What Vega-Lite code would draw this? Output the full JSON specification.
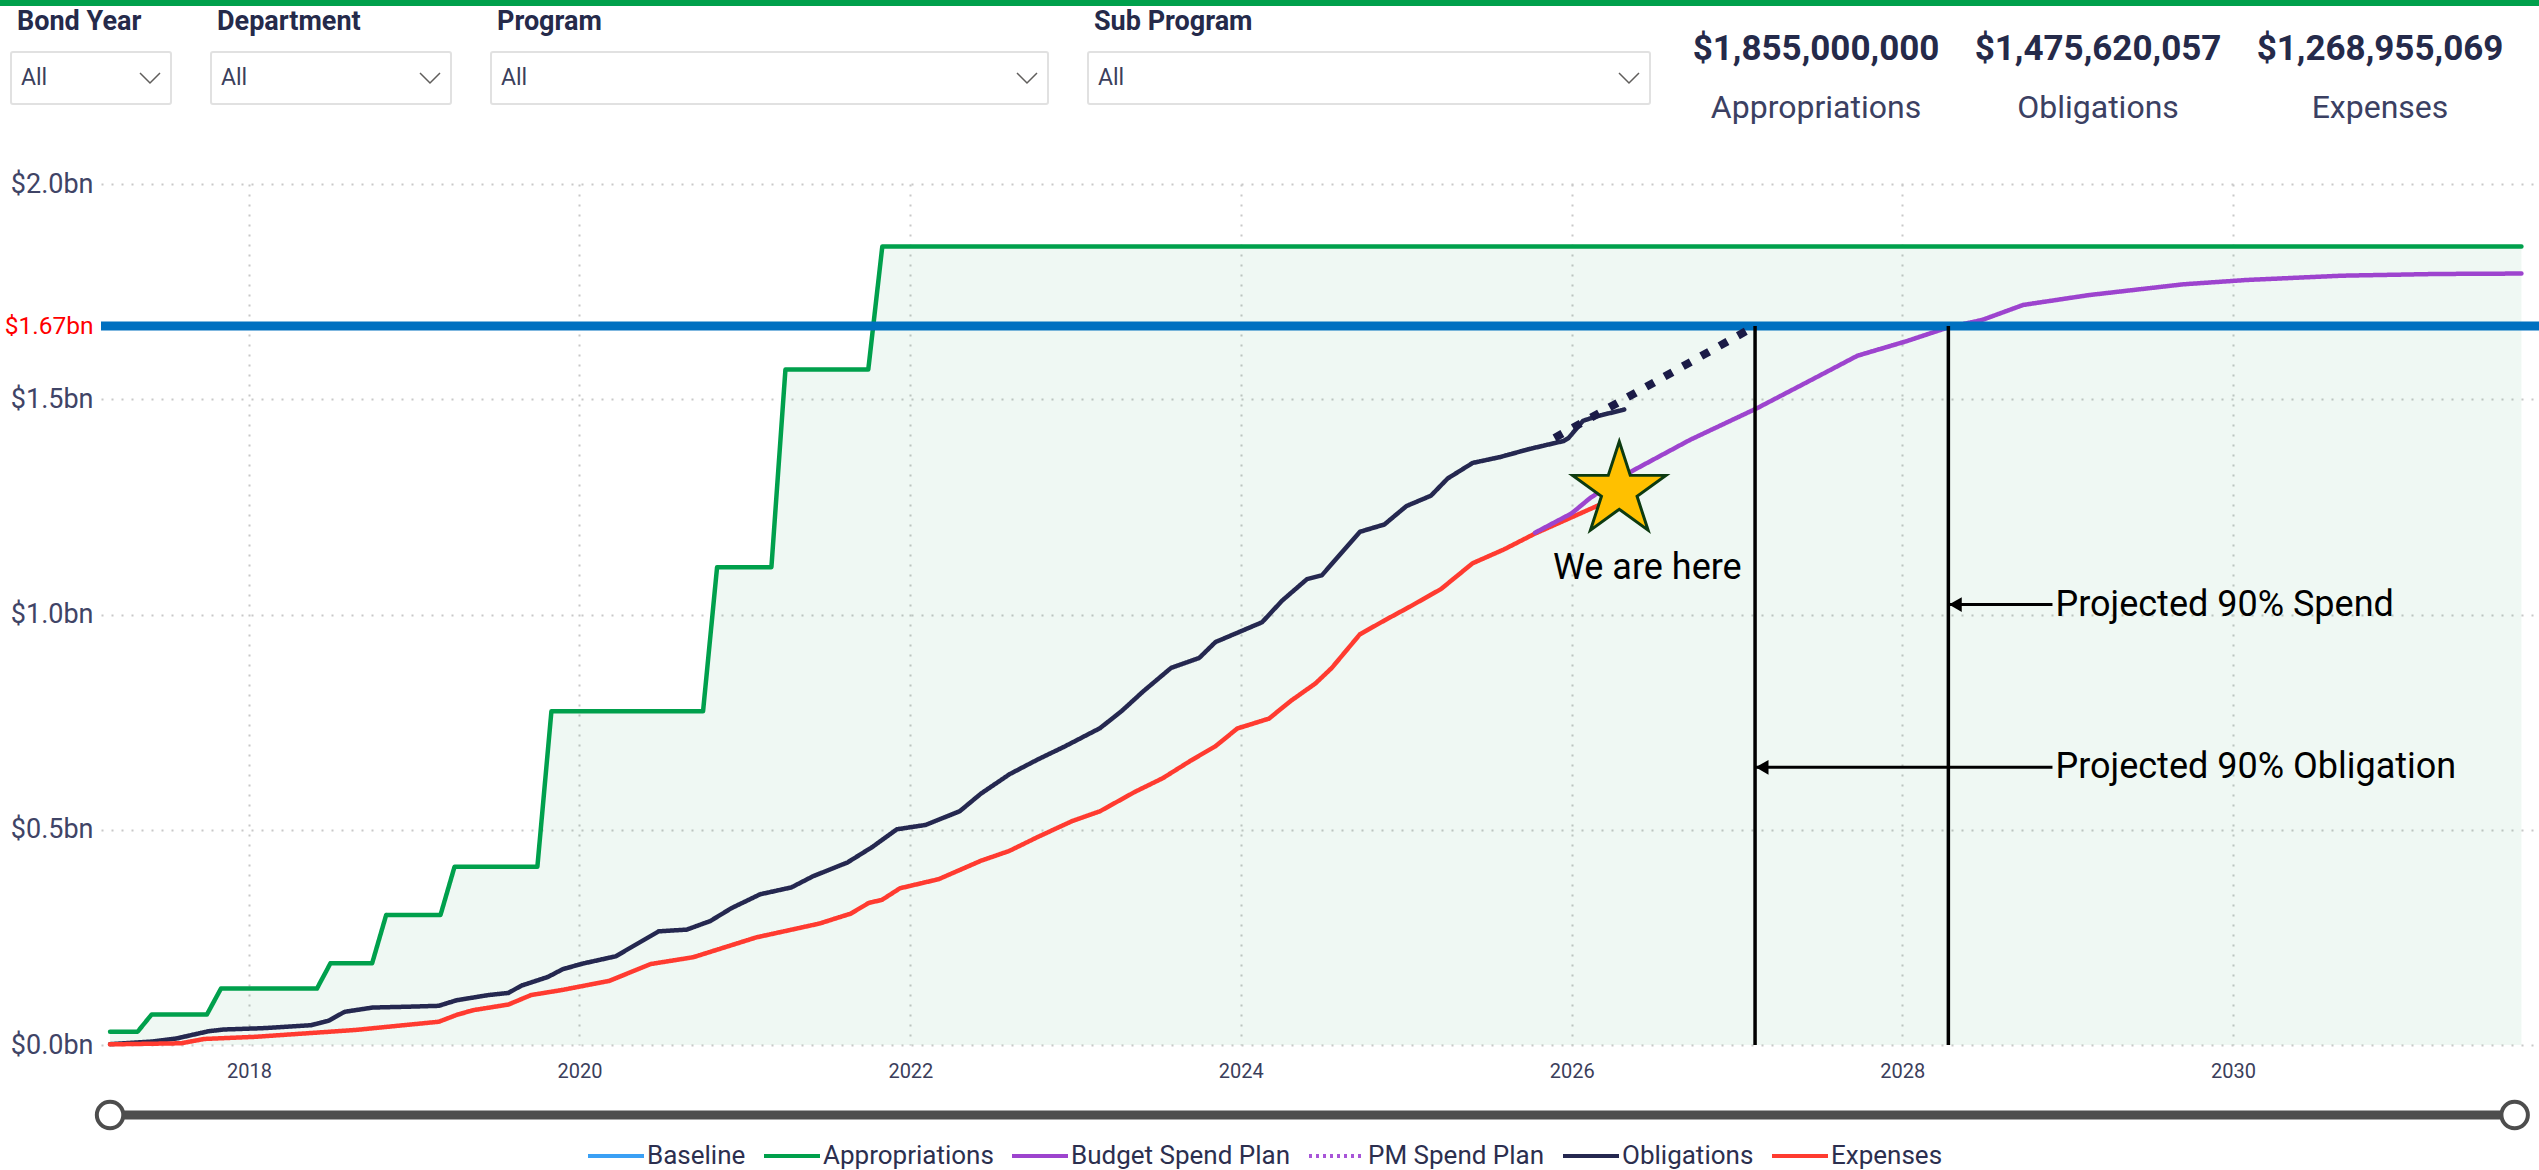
{
  "$schema": "https://vega.github.io/schema/vega-lite/v6.json",
  "background": "#ffffff",
  "padding": 0,
  "config": {
    "view": {"stroke": null},
    "font": "Roboto",
    "title": {"font": "Roboto", "anchor": "start"}
  },
  "datasets": {
    "slicers": [
      {"slicer": "Bond Year", "selection": "All"},
      {"slicer": "Department", "selection": "All"},
      {"slicer": "Program", "selection": "All"},
      {"slicer": "Sub Program", "selection": "All"}
    ],
    "kpis": [
      {"measure": "Appropriations", "amount": 1855000000},
      {"measure": "Obligations", "amount": 1475620057},
      {"measure": "Expenses", "amount": 1268955069}
    ],
    "baseline": [{"series": "Baseline", "value": 1.67}],
    "projections": [
      {"label": "Projected 90% Obligation", "date": "2027-02-10", "target": 1.67, "arrow_level": 0.645, "label_date": "2028-11-28"},
      {"label": "Projected 90% Spend", "date": "2028-04-12", "target": 1.67, "arrow_level": 1.023, "label_date": "2028-11-28"}
    ],
    "obligation_projection": [
      {"date": "2025-11-24", "value": 1.41},
      {"date": "2027-02-10", "value": 1.67}
    ],
    "status": [
      {"note": "We are here", "date": "2026-04-16", "value": 1.288, "label_date": "2026-06-17", "label_value": 1.108}
    ],
    "date_range": [
      {"control": "Date range", "handle": "start", "date": "2017-02-28"},
      {"control": "Date range", "handle": "end", "date": "2031-09-15"}
    ],
    "spending": [
      {"series": "Appropriations", "date": "2017-02-28", "value": 0.031},
      {"series": "Appropriations", "date": "2017-04-30", "value": 0.031},
      {"series": "Appropriations", "date": "2017-05-31", "value": 0.071},
      {"series": "Appropriations", "date": "2017-09-30", "value": 0.071},
      {"series": "Appropriations", "date": "2017-10-31", "value": 0.131},
      {"series": "Appropriations", "date": "2018-05-31", "value": 0.131},
      {"series": "Appropriations", "date": "2018-06-30", "value": 0.19},
      {"series": "Appropriations", "date": "2018-09-30", "value": 0.19},
      {"series": "Appropriations", "date": "2018-10-31", "value": 0.302},
      {"series": "Appropriations", "date": "2019-02-28", "value": 0.302},
      {"series": "Appropriations", "date": "2019-03-31", "value": 0.414},
      {"series": "Appropriations", "date": "2019-09-30", "value": 0.414},
      {"series": "Appropriations", "date": "2019-10-31", "value": 0.775},
      {"series": "Appropriations", "date": "2020-09-30", "value": 0.775},
      {"series": "Appropriations", "date": "2020-10-31", "value": 1.11},
      {"series": "Appropriations", "date": "2021-02-28", "value": 1.11},
      {"series": "Appropriations", "date": "2021-03-31", "value": 1.569},
      {"series": "Appropriations", "date": "2021-09-30", "value": 1.569},
      {"series": "Appropriations", "date": "2021-10-31", "value": 1.855},
      {"series": "Appropriations", "date": "2031-09-30", "value": 1.855},

      {"series": "Obligations", "date": "2017-02-28", "value": 0.002},
      {"series": "Obligations", "date": "2017-05-31", "value": 0.008},
      {"series": "Obligations", "date": "2017-07-24", "value": 0.015},
      {"series": "Obligations", "date": "2017-10-04", "value": 0.032},
      {"series": "Obligations", "date": "2017-11-06", "value": 0.036},
      {"series": "Obligations", "date": "2018-01-30", "value": 0.039},
      {"series": "Obligations", "date": "2018-03-04", "value": 0.041},
      {"series": "Obligations", "date": "2018-05-18", "value": 0.046},
      {"series": "Obligations", "date": "2018-06-25", "value": 0.056},
      {"series": "Obligations", "date": "2018-07-31", "value": 0.077},
      {"series": "Obligations", "date": "2018-10-01", "value": 0.087},
      {"series": "Obligations", "date": "2018-12-20", "value": 0.089},
      {"series": "Obligations", "date": "2019-02-24", "value": 0.091},
      {"series": "Obligations", "date": "2019-04-05", "value": 0.104},
      {"series": "Obligations", "date": "2019-06-14", "value": 0.116},
      {"series": "Obligations", "date": "2019-07-28", "value": 0.121},
      {"series": "Obligations", "date": "2019-08-26", "value": 0.138},
      {"series": "Obligations", "date": "2019-10-23", "value": 0.158},
      {"series": "Obligations", "date": "2019-11-25", "value": 0.176},
      {"series": "Obligations", "date": "2020-01-08", "value": 0.189},
      {"series": "Obligations", "date": "2020-03-21", "value": 0.206},
      {"series": "Obligations", "date": "2020-06-24", "value": 0.264},
      {"series": "Obligations", "date": "2020-08-25", "value": 0.268},
      {"series": "Obligations", "date": "2020-10-16", "value": 0.288},
      {"series": "Obligations", "date": "2020-12-02", "value": 0.318},
      {"series": "Obligations", "date": "2021-02-03", "value": 0.35},
      {"series": "Obligations", "date": "2021-04-13", "value": 0.366},
      {"series": "Obligations", "date": "2021-05-31", "value": 0.392},
      {"series": "Obligations", "date": "2021-08-15", "value": 0.424},
      {"series": "Obligations", "date": "2021-10-09", "value": 0.46},
      {"series": "Obligations", "date": "2021-12-02", "value": 0.501},
      {"series": "Obligations", "date": "2022-02-03", "value": 0.511},
      {"series": "Obligations", "date": "2022-04-20", "value": 0.543},
      {"series": "Obligations", "date": "2022-06-06", "value": 0.584},
      {"series": "Obligations", "date": "2022-08-08", "value": 0.629},
      {"series": "Obligations", "date": "2022-10-09", "value": 0.663},
      {"series": "Obligations", "date": "2022-12-09", "value": 0.694},
      {"series": "Obligations", "date": "2023-02-24", "value": 0.736},
      {"series": "Obligations", "date": "2023-04-13", "value": 0.776},
      {"series": "Obligations", "date": "2023-05-31", "value": 0.822},
      {"series": "Obligations", "date": "2023-07-31", "value": 0.876},
      {"series": "Obligations", "date": "2023-10-01", "value": 0.899},
      {"series": "Obligations", "date": "2023-11-06", "value": 0.936},
      {"series": "Obligations", "date": "2024-02-17", "value": 0.982},
      {"series": "Obligations", "date": "2024-04-01", "value": 1.032},
      {"series": "Obligations", "date": "2024-05-26", "value": 1.082},
      {"series": "Obligations", "date": "2024-06-28", "value": 1.091},
      {"series": "Obligations", "date": "2024-09-20", "value": 1.192},
      {"series": "Obligations", "date": "2024-11-13", "value": 1.209},
      {"series": "Obligations", "date": "2025-01-01", "value": 1.252},
      {"series": "Obligations", "date": "2025-02-24", "value": 1.276},
      {"series": "Obligations", "date": "2025-04-02", "value": 1.316},
      {"series": "Obligations", "date": "2025-05-27", "value": 1.352},
      {"series": "Obligations", "date": "2025-07-28", "value": 1.366},
      {"series": "Obligations", "date": "2025-09-28", "value": 1.384},
      {"series": "Obligations", "date": "2025-12-14", "value": 1.403},
      {"series": "Obligations", "date": "2025-12-25", "value": 1.41},
      {"series": "Obligations", "date": "2026-01-26", "value": 1.45},
      {"series": "Obligations", "date": "2026-02-24", "value": 1.46},
      {"series": "Obligations", "date": "2026-04-27", "value": 1.476},

      {"series": "Expenses", "date": "2017-02-28", "value": 0.0015},
      {"series": "Expenses", "date": "2017-08-04", "value": 0.004},
      {"series": "Expenses", "date": "2017-09-24", "value": 0.014},
      {"series": "Expenses", "date": "2018-01-15", "value": 0.019},
      {"series": "Expenses", "date": "2018-08-25", "value": 0.035},
      {"series": "Expenses", "date": "2019-02-24", "value": 0.054},
      {"series": "Expenses", "date": "2019-04-05", "value": 0.07},
      {"series": "Expenses", "date": "2019-05-12", "value": 0.081},
      {"series": "Expenses", "date": "2019-07-28", "value": 0.094},
      {"series": "Expenses", "date": "2019-09-16", "value": 0.116},
      {"series": "Expenses", "date": "2019-11-25", "value": 0.128},
      {"series": "Expenses", "date": "2020-03-07", "value": 0.149},
      {"series": "Expenses", "date": "2020-06-06", "value": 0.188},
      {"series": "Expenses", "date": "2020-09-09", "value": 0.204},
      {"series": "Expenses", "date": "2021-01-26", "value": 0.25},
      {"series": "Expenses", "date": "2021-06-14", "value": 0.282},
      {"series": "Expenses", "date": "2021-08-22", "value": 0.305},
      {"series": "Expenses", "date": "2021-10-01", "value": 0.33},
      {"series": "Expenses", "date": "2021-10-30", "value": 0.337},
      {"series": "Expenses", "date": "2021-12-09", "value": 0.364},
      {"series": "Expenses", "date": "2022-03-04", "value": 0.385},
      {"series": "Expenses", "date": "2022-06-06", "value": 0.428},
      {"series": "Expenses", "date": "2022-08-08", "value": 0.451},
      {"series": "Expenses", "date": "2022-10-09", "value": 0.483},
      {"series": "Expenses", "date": "2022-12-24", "value": 0.52},
      {"series": "Expenses", "date": "2023-02-24", "value": 0.543},
      {"series": "Expenses", "date": "2023-05-12", "value": 0.588},
      {"series": "Expenses", "date": "2023-07-13", "value": 0.62},
      {"series": "Expenses", "date": "2023-09-13", "value": 0.661},
      {"series": "Expenses", "date": "2023-11-06", "value": 0.694},
      {"series": "Expenses", "date": "2023-12-24", "value": 0.735},
      {"series": "Expenses", "date": "2024-03-03", "value": 0.758},
      {"series": "Expenses", "date": "2024-04-20", "value": 0.799},
      {"series": "Expenses", "date": "2024-06-14", "value": 0.84},
      {"series": "Expenses", "date": "2024-07-20", "value": 0.876},
      {"series": "Expenses", "date": "2024-09-20", "value": 0.954},
      {"series": "Expenses", "date": "2024-11-13", "value": 0.986},
      {"series": "Expenses", "date": "2025-01-08", "value": 1.018},
      {"series": "Expenses", "date": "2025-03-18", "value": 1.059},
      {"series": "Expenses", "date": "2025-05-27", "value": 1.119},
      {"series": "Expenses", "date": "2025-08-04", "value": 1.151},
      {"series": "Expenses", "date": "2025-10-12", "value": 1.188},
      {"series": "Expenses", "date": "2025-12-28", "value": 1.224},
      {"series": "Expenses", "date": "2026-03-04", "value": 1.255},
      {"series": "Expenses", "date": "2026-04-09", "value": 1.269},

      {"series": "Budget Spend Plan", "date": "2025-10-12", "value": 1.19},
      {"series": "Budget Spend Plan", "date": "2026-01-01", "value": 1.235},
      {"series": "Budget Spend Plan", "date": "2026-02-10", "value": 1.27},
      {"series": "Budget Spend Plan", "date": "2026-05-05", "value": 1.328},
      {"series": "Budget Spend Plan", "date": "2026-09-20", "value": 1.406},
      {"series": "Budget Spend Plan", "date": "2027-02-14", "value": 1.479},
      {"series": "Budget Spend Plan", "date": "2027-05-31", "value": 1.537},
      {"series": "Budget Spend Plan", "date": "2027-09-24", "value": 1.601},
      {"series": "Budget Spend Plan", "date": "2028-01-08", "value": 1.634},
      {"series": "Budget Spend Plan", "date": "2028-04-12", "value": 1.667},
      {"series": "Budget Spend Plan", "date": "2028-06-25", "value": 1.684},
      {"series": "Budget Spend Plan", "date": "2028-09-24", "value": 1.719},
      {"series": "Budget Spend Plan", "date": "2029-02-17", "value": 1.742},
      {"series": "Budget Spend Plan", "date": "2029-09-13", "value": 1.767},
      {"series": "Budget Spend Plan", "date": "2030-01-30", "value": 1.777},
      {"series": "Budget Spend Plan", "date": "2030-08-29", "value": 1.787},
      {"series": "Budget Spend Plan", "date": "2031-03-26", "value": 1.791},
      {"series": "Budget Spend Plan", "date": "2031-09-30", "value": 1.792}
    ]
  },
  "spacing": 1,
  "vconcat": [
    {
      "width": 2539,
      "height": 6,
      "data": {"values": [{"element": "report banner"}]},
      "mark": {"type": "rect", "color": "#00A04C"}
    },
    {
      "spacing": 46,
      "vconcat": [
        {
          "spacing": 9,
          "hconcat": [
            {"width": 1, "height": 1, "data": {"values": []}, "mark": "rect"},
            {
              "spacing": 24,
              "hconcat": [
                {
                  "bounds": "flush",
                  "spacing": 40,
                  "hconcat": [
                    {
                      "width": 160, "height": 52,
                      "view": {"stroke": "#E1E1E1", "strokeWidth": 2, "cornerRadius": 2},
                      "title": {"text": "Bond Year", "anchor": "start", "dx": 6, "offset": 16, "fontSize": 27, "fontWeight": "bold", "color": "#252A4A"},
                      "data": {"name": "slicers"},
                      "transform": [{"filter": {"field": "slicer", "equal": "Bond Year"}}],
                      "layer": [
                        {"mark": {"type": "text", "align": "left", "baseline": "middle", "dx": 10, "fontSize": 23, "color": "#3B3F5C"},
                         "encoding": {"x": {"field": "selection", "type": "nominal", "axis": null, "bandPosition": 0, "scale": {"type": "band", "paddingInner": 0, "paddingOuter": 0}}, "text": {"field": "selection"}}},
                        {"mark": {"type": "point", "shape": "M-1,-0.5L0,0.5L1,-0.5", "filled": false, "size": 400, "stroke": "#605E5C", "strokeWidth": 1.5, "xOffset": -21, "opacity": 1},
                         "encoding": {"x": {"field": "selection", "type": "nominal", "axis": null, "bandPosition": 1, "scale": {"type": "band", "paddingInner": 0, "paddingOuter": 0}}}}
                      ]
                    },
                    {
                      "width": 240, "height": 52,
                      "view": {"stroke": "#E1E1E1", "strokeWidth": 2, "cornerRadius": 2},
                      "title": {"text": "Department", "anchor": "start", "dx": 6, "offset": 16, "fontSize": 27, "fontWeight": "bold", "color": "#252A4A"},
                      "data": {"name": "slicers"},
                      "transform": [{"filter": {"field": "slicer", "equal": "Department"}}],
                      "layer": [
                        {"mark": {"type": "text", "align": "left", "baseline": "middle", "dx": 10, "fontSize": 23, "color": "#3B3F5C"},
                         "encoding": {"x": {"field": "selection", "type": "nominal", "axis": null, "bandPosition": 0, "scale": {"type": "band", "paddingInner": 0, "paddingOuter": 0}}, "text": {"field": "selection"}}},
                        {"mark": {"type": "point", "shape": "M-1,-0.5L0,0.5L1,-0.5", "filled": false, "size": 400, "stroke": "#605E5C", "strokeWidth": 1.5, "xOffset": -21, "opacity": 1},
                         "encoding": {"x": {"field": "selection", "type": "nominal", "axis": null, "bandPosition": 1, "scale": {"type": "band", "paddingInner": 0, "paddingOuter": 0}}}}
                      ]
                    },
                    {
                      "width": 557, "height": 52,
                      "view": {"stroke": "#E1E1E1", "strokeWidth": 2, "cornerRadius": 2},
                      "title": {"text": "Program", "anchor": "start", "dx": 6, "offset": 16, "fontSize": 27, "fontWeight": "bold", "color": "#252A4A"},
                      "data": {"name": "slicers"},
                      "transform": [{"filter": {"field": "slicer", "equal": "Program"}}],
                      "layer": [
                        {"mark": {"type": "text", "align": "left", "baseline": "middle", "dx": 10, "fontSize": 23, "color": "#3B3F5C"},
                         "encoding": {"x": {"field": "selection", "type": "nominal", "axis": null, "bandPosition": 0, "scale": {"type": "band", "paddingInner": 0, "paddingOuter": 0}}, "text": {"field": "selection"}}},
                        {"mark": {"type": "point", "shape": "M-1,-0.5L0,0.5L1,-0.5", "filled": false, "size": 400, "stroke": "#605E5C", "strokeWidth": 1.5, "xOffset": -21, "opacity": 1},
                         "encoding": {"x": {"field": "selection", "type": "nominal", "axis": null, "bandPosition": 1, "scale": {"type": "band", "paddingInner": 0, "paddingOuter": 0}}}}
                      ]
                    },
                    {
                      "width": 562, "height": 52,
                      "view": {"stroke": "#E1E1E1", "strokeWidth": 2, "cornerRadius": 2},
                      "title": {"text": "Sub Program", "anchor": "start", "dx": 6, "offset": 16, "fontSize": 27, "fontWeight": "bold", "color": "#252A4A"},
                      "data": {"name": "slicers"},
                      "transform": [{"filter": {"field": "slicer", "equal": "Sub Program"}}],
                      "layer": [
                        {"mark": {"type": "text", "align": "left", "baseline": "middle", "dx": 10, "fontSize": 23, "color": "#3B3F5C"},
                         "encoding": {"x": {"field": "selection", "type": "nominal", "axis": null, "bandPosition": 0, "scale": {"type": "band", "paddingInner": 0, "paddingOuter": 0}}, "text": {"field": "selection"}}},
                        {"mark": {"type": "point", "shape": "M-1,-0.5L0,0.5L1,-0.5", "filled": false, "size": 400, "stroke": "#605E5C", "strokeWidth": 1.5, "xOffset": -21, "opacity": 1},
                         "encoding": {"x": {"field": "selection", "type": "nominal", "axis": null, "bandPosition": 1, "scale": {"type": "band", "paddingInner": 0, "paddingOuter": 0}}}}
                      ]
                    }
                  ]
                },
                {
                  "width": 846, "height": 52,
                  "data": {"name": "kpis"},
                  "encoding": {"x": {"field": "measure", "type": "nominal", "sort": null, "axis": null, "scale": {"paddingInner": 0, "paddingOuter": 0}}},
                  "layer": [
                    {"mark": {"type": "text", "baseline": "middle", "dy": -29, "fontSize": 35, "fontWeight": "bold", "color": "#252A4A"},
                     "encoding": {"text": {"field": "amount", "type": "quantitative", "format": "$,.0f"}}},
                    {"mark": {"type": "text", "baseline": "middle", "dy": 30, "fontSize": 32, "color": "#3B4062"},
                     "encoding": {"text": {"field": "measure", "type": "nominal"}}}
                  ]
                }
              ]
            }
          ]
        },
        {
          "spacing": 3,
          "hconcat": [
            {"width": 1, "height": 1, "data": {"values": []}, "mark": "rect"},
            {
              "bounds": "flush",
              "spacing": 56,
              "vconcat": [
                {
                  "width": 2439,
                  "height": 861,
                  "layer": [
                    {
                      "data": {"name": "spending"},
                      "transform": [{"filter": {"field": "series", "equal": "Appropriations"}}],
                      "mark": {"type": "area", "color": "#0A9A47", "opacity": 0.065},
                      "encoding": {
                        "x": {"field": "date", "type": "temporal",
                              "scale": {"type": "utc", "domain": [{"year": 2017, "month": 2, "date": 8, "utc": true}, {"year": 2031, "month": 11, "date": 10, "utc": true}]},
                              "axis": {"title": null, "values": [{"year": 2018, "utc": true}, {"year": 2020, "utc": true}, {"year": 2022, "utc": true}, {"year": 2024, "utc": true}, {"year": 2026, "utc": true}, {"year": 2028, "utc": true}, {"year": 2030, "utc": true}],
                                       "format": "%Y", "labelFont": "Roboto", "labelFontSize": 20, "labelColor": "#3B3E5B", "labelPadding": 16, "labelFlush": false,
                                       "domain": false, "ticks": false, "grid": true, "gridColor": "#C8C8C8", "gridDash": [2, 8], "gridWidth": 2}},
                        "y": {"field": "value", "type": "quantitative",
                              "scale": {"domain": [0, 2], "nice": false},
                              "axis": {"title": null, "values": [0, 0.5, 1, 1.5, 1.67, 2],
                                       "labelExpr": "datum.value == 1.67 ? '$1.67bn' : '$' + format(datum.value, '.1f') + 'bn'",
                                       "labelFont": "Roboto",
                                       "labelFontSize": {"condition": {"test": "datum.value == 1.67", "value": 24.5}, "value": 27},
                                       "labelColor": {"condition": {"test": "datum.value == 1.67", "value": "#FF0000"}, "value": "#3F4466"},
                                       "labelPadding": 8, "labelFlush": false, "domain": false, "ticks": false,
                                       "grid": true, "gridColor": "#C8C8C8", "gridDash": [2, 8], "gridWidth": 2,
                                       "gridOpacity": {"condition": {"test": "datum.value == 1.67", "value": 0}, "value": 1}}}
                      }
                    },
                    {
                      "data": {"name": "spending"},
                      "transform": [{"filter": {"field": "series", "oneOf": ["Appropriations", "Obligations", "Expenses"]}}],
                      "mark": {"type": "line", "strokeWidth": 4.5, "strokeJoin": "round", "strokeCap": "round"},
                      "encoding": {
                        "x": {"field": "date", "type": "temporal"},
                        "y": {"field": "value", "type": "quantitative"},
                        "color": {"field": "series", "type": "nominal",
                                  "scale": {"domain": ["Baseline", "Appropriations", "Budget Spend Plan", "PM Spend Plan", "Obligations", "Expenses"],
                                            "range": ["#3AA0F5", "#00A04C", "#9D44CE", "#A855D8", "#252850", "#FF3B30"]},
                                  "legend": {"orient": "none", "legendX": 600, "legendY": 1140, "direction": "horizontal", "title": null,
                                             "symbolType": "M-2,0L2,0", "symbolSize": 784, "symbolStrokeWidth": 4, "labelFont": "Roboto",
                                             "labelFontSize": 26, "labelColor": "#2C2F4F", "labelOffset": 15, "labelLimit": 0, "columnPadding": 10}},
                        "strokeDash": {"field": "series", "type": "nominal",
                                       "scale": {"domain": ["Baseline", "Appropriations", "Budget Spend Plan", "PM Spend Plan", "Obligations", "Expenses"],
                                                 "range": [[1, 0], [1, 0], [1, 0], [3, 4], [1, 0], [1, 0]]},
                                       "legend": {"orient": "none", "legendX": 600, "legendY": 1140, "direction": "horizontal", "title": null,
                                                  "symbolType": "M-2,0L2,0", "symbolSize": 784, "symbolStrokeWidth": 4, "labelFont": "Roboto",
                                                  "labelFontSize": 26, "labelColor": "#2C2F4F", "labelOffset": 15, "labelLimit": 0, "columnPadding": 10}}
                      }
                    },
                    {
                      "data": {"name": "spending"},
                      "transform": [{"filter": {"field": "series", "equal": "Budget Spend Plan"}}],
                      "mark": {"type": "line", "strokeWidth": 4.5, "strokeJoin": "round", "strokeCap": "round"},
                      "encoding": {
                        "x": {"field": "date", "type": "temporal"},
                        "y": {"field": "value", "type": "quantitative"},
                        "color": {"field": "series", "type": "nominal"},
                        "strokeDash": {"field": "series", "type": "nominal"}
                      }
                    },
                    {
                      "data": {"name": "baseline"},
                      "mark": {"type": "rule", "color": "#0070C0", "strokeWidth": 9},
                      "encoding": {"y": {"field": "value", "type": "quantitative"}}
                    },
                    {
                      "data": {"name": "projections"},
                      "mark": {"type": "rule", "color": "#000000", "strokeWidth": 3.5},
                      "encoding": {
                        "x": {"field": "date", "type": "temporal"},
                        "y": {"field": "target", "type": "quantitative"},
                        "y2": {"datum": 0}
                      }
                    },
                    {
                      "data": {"name": "obligation_projection"},
                      "mark": {"type": "line", "color": "#1B1B47", "strokeWidth": 8, "strokeDash": [9, 12], "strokeCap": "butt"},
                      "encoding": {
                        "x": {"field": "date", "type": "temporal"},
                        "y": {"field": "value", "type": "quantitative"}
                      }
                    },
                    {
                      "data": {"name": "projections"},
                      "mark": {"type": "rule", "color": "#000000", "strokeWidth": 3},
                      "encoding": {
                        "x": {"field": "date", "type": "temporal"},
                        "x2": {"field": "label_date"},
                        "y": {"field": "arrow_level", "type": "quantitative"}
                      }
                    },
                    {
                      "data": {"name": "projections"},
                      "mark": {"type": "point", "shape": "triangle-left", "filled": true, "color": "#000000", "size": 220, "opacity": 1, "xOffset": 7},
                      "encoding": {
                        "x": {"field": "date", "type": "temporal"},
                        "y": {"field": "arrow_level", "type": "quantitative"}
                      }
                    },
                    {
                      "data": {"name": "projections"},
                      "mark": {"type": "text", "align": "left", "baseline": "middle", "dx": 3, "fontSize": 36, "color": "#000000"},
                      "encoding": {
                        "x": {"field": "label_date", "type": "temporal"},
                        "y": {"field": "arrow_level", "type": "quantitative"},
                        "text": {"field": "label"}
                      }
                    },
                    {
                      "data": {"name": "status"},
                      "mark": {"type": "point", "shape": "M0,-1L0.2245,-0.309L0.9511,-0.309L0.3633,0.118L0.5878,0.809L0,0.382L-0.5878,0.809L-0.3633,0.118L-0.9511,-0.309L-0.2245,-0.309Z",
                               "size": 9604, "filled": true, "fill": "#FFC000", "stroke": "#0D3B10", "strokeWidth": 3, "opacity": 1},
                      "encoding": {
                        "x": {"field": "date", "type": "temporal"},
                        "y": {"field": "value", "type": "quantitative"}
                      }
                    },
                    {
                      "data": {"name": "status"},
                      "mark": {"type": "text", "align": "center", "baseline": "middle", "fontSize": 36, "color": "#000000"},
                      "encoding": {
                        "x": {"field": "label_date", "type": "temporal"},
                        "y": {"field": "label_value", "type": "quantitative"},
                        "text": {"field": "note"}
                      }
                    }
                  ]
                },
                {
                  "width": 2439,
                  "height": 28,
                  "data": {"name": "date_range"},
                  "encoding": {
                    "x": {"field": "date", "type": "temporal", "axis": null,
                          "scale": {"type": "utc", "domain": [{"year": 2017, "month": 2, "date": 8, "utc": true}, {"year": 2031, "month": 11, "date": 10, "utc": true}]}},
                    "y": {"field": "control", "type": "nominal", "axis": null, "scale": {"type": "point", "padding": 0.5}}
                  },
                  "layer": [
                    {"mark": {"type": "line", "color": "#4D4D4D", "strokeWidth": 9, "strokeCap": "butt"}},
                    {"mark": {"type": "point", "shape": "circle", "filled": true, "fill": "#FFFFFF", "stroke": "#4D4D4D", "strokeWidth": 4, "size": 700, "opacity": 1}}
                  ]
                }
              ]
            }
          ]
        }
      ]
    }
  ]
}
